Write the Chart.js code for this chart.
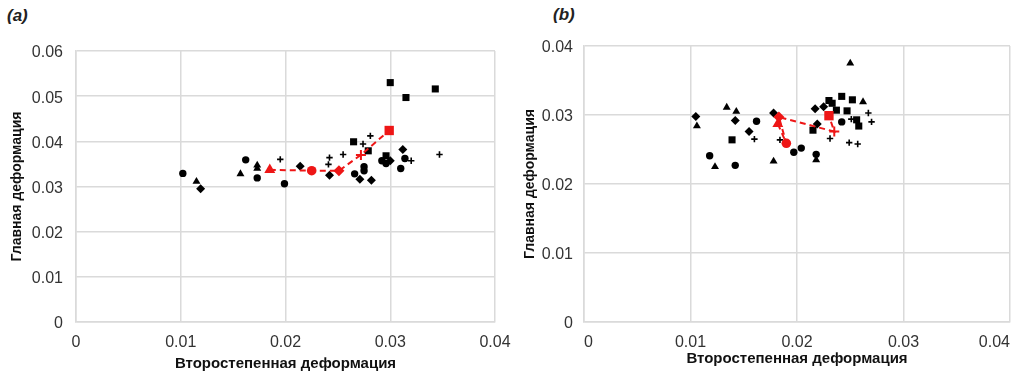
<!DOCTYPE html>
<html>
<head>
<meta charset="utf-8">
<script src="https://cdn.jsdelivr.net/npm/chart.js@4/dist/chart.umd.min.js"></script>
<style>
  html, body { margin: 0; padding: 0; background: #fff; width: 1024px; height: 378px; overflow: hidden; }
  .panel { position: absolute; top: 0; }
  .tag { position: absolute; font-family: "Liberation Sans", Arial, sans-serif; font-weight: bold; font-style: italic; font-size: 17px; color: #222; }
</style>
</head>
<body>
<div class="tag" style="left:7px; top:6px;">(a)</div>
<div class="tag" style="left:553px; top:5px;">(b)</div>
<canvas id="ca" class="panel" style="left:0px;" width="512" height="378"></canvas>
<canvas id="cb" class="panel" style="left:515px;" width="509" height="378"></canvas>
<script>
// ---------- Data: panel (a) ----------
const aCircleX = [0.0102, 0.0162, 0.0173, 0.0199, 0.0266, 0.0275, 0.0275, 0.0292, 0.0296, 0.0314, 0.0310];
const aCircleY = [0.0329, 0.0359, 0.0319, 0.0306, 0.0328, 0.0335, 0.0344, 0.0357, 0.0351, 0.0362, 0.0340];
const aTriX = [0.0115, 0.0157, 0.0173, 0.0173];
const aTriY = [0.0311, 0.0328, 0.0347, 0.0340];
const aDiaX = [0.0119, 0.0214, 0.0242, 0.0271, 0.0282, 0.0300, 0.0312];
const aDiaY = [0.0295, 0.0345, 0.0325, 0.0316, 0.0314, 0.0357, 0.0382];
const aSqX = [0.0265, 0.0279, 0.0296, 0.0300, 0.0315, 0.0343];
const aSqY = [0.0399, 0.0379, 0.0368, 0.0530, 0.0497, 0.0516];
const aPlusX = [0.0195, 0.0241, 0.0242, 0.0255, 0.0274, 0.0281, 0.0320, 0.0347];
const aPlusY = [0.0360, 0.0349, 0.0364, 0.0371, 0.0394, 0.0412, 0.0357, 0.0371];
const aRedX = [0.0185, 0.0225, 0.0251, 0.0272, 0.0299];
const aRedY = [0.0337, 0.0335, 0.0335, 0.0370, 0.0424];

// ---------- Data: panel (b) ----------
const bCircleX = [0.0162, 0.0118, 0.0142, 0.0197, 0.0204, 0.0242, 0.0218];
const bCircleY = [0.0291, 0.0241, 0.0227, 0.0246, 0.0252, 0.0290, 0.0243];
const bTriX = [0.0106, 0.0134, 0.0143, 0.0123, 0.0178, 0.0250, 0.0262, 0.0218];
const bTriY = [0.0284, 0.0311, 0.0305, 0.0225, 0.0233, 0.0375, 0.0319, 0.0235];
const bDiaX = [0.0105, 0.0142, 0.0155, 0.0178, 0.0217, 0.0225, 0.0219];
const bDiaY = [0.0298, 0.0292, 0.0276, 0.0303, 0.0309, 0.0312, 0.0287];
const bSqX = [0.0139, 0.0230, 0.0233, 0.0237, 0.0242, 0.0252, 0.0247, 0.0256, 0.0258, 0.0215];
const bSqY = [0.0264, 0.0321, 0.0317, 0.0307, 0.0327, 0.0322, 0.0306, 0.0293, 0.0284, 0.0278];
const bPlusX = [0.0160, 0.0184, 0.0267, 0.0270, 0.0251, 0.0231, 0.0249, 0.0257];
const bPlusY = [0.0265, 0.0264, 0.0303, 0.0290, 0.0294, 0.0266, 0.0260, 0.0258];
const bRedX = [0.0182, 0.0190, 0.0183, 0.0235, 0.0230];
const bRedY = [0.0287, 0.0259, 0.0297, 0.0276, 0.0299];

// ---------- Axes ----------
const aXTicks = [0, 0.01, 0.02, 0.03, 0.04];
const aYTicks = [0, 0.01, 0.02, 0.03, 0.04, 0.05, 0.06];
const bXTicks = [0, 0.01, 0.02, 0.03, 0.04];
const bYTicks = [0, 0.01, 0.02, 0.03, 0.04];
const xTitle = 'Второстепенная деформация';
const yTitle = 'Главная деформация';

const redStyles = ['triangle', 'circle', 'rectRot', 'cross', 'rect'];
const redRadii = [6.3, 4.8, 5.5, 5, 6.6];

function pts(xs, ys) { return xs.map((x, i) => ({ x: x, y: ys[i] })); }

const RED = 'rgb(238,22,22)';
const BLACK = '#000';
const GRID = '#dadada';
const FONT = '"Liberation Sans", Arial, sans-serif';

function blackSet(data, style, r) {
  return {
    data: data, pointStyle: style, pointRadius: r,
    backgroundColor: BLACK, borderColor: BLACK,
    borderWidth: style === 'cross' ? 1.6 : 0,
    showLine: false
  };
}

function makeChart(id, cfg) {
  const datasets = [
    {
      data: pts(cfg.redX, cfg.redY), showLine: true,
      borderColor: RED, backgroundColor: RED, borderWidth: 2, borderDash: [6, 4],
      pointStyle: redStyles, pointRadius: redRadii,
      pointBorderColor: RED, pointBackgroundColor: RED,
      pointBorderWidth: redStyles.map(s => s === 'cross' ? 2 : 0)
    },
    blackSet(pts(cfg.sqX, cfg.sqY), 'rect', 5),
    blackSet(pts(cfg.circX, cfg.circY), 'circle', 3.7),
    blackSet(pts(cfg.triX, cfg.triY), 'triangle', 4.6),
    blackSet(pts(cfg.diaX, cfg.diaY), 'rectRot', 4.5),
    blackSet(pts(cfg.plusX, cfg.plusY), 'cross', 3.2)
  ];
  return new Chart(document.getElementById(id), {
    type: 'scatter',
    data: { datasets: datasets },
    options: {
      responsive: false,
      animation: false,
      events: [],
      layout: { padding: { top: cfg.padTop, right: cfg.padRight, left: 0, bottom: 0 } },
      plugins: { legend: { display: false }, tooltip: { enabled: false } },
      scales: {
        x: {
          type: 'linear', min: cfg.xTicks[0], max: cfg.xTicks[cfg.xTicks.length - 1],
          afterBuildTicks: s => { s.ticks = cfg.xTicks.map(v => ({ value: v })); },
          afterFit: s => { s.height = cfg.xH; s.paddingLeft = 0; s.paddingRight = 0; },
          grid: { color: GRID, lineWidth: 1.5, drawTicks: false },
          border: { color: GRID, width: 1.5 },
          ticks: { padding: 11, color: '#333', font: { family: FONT, size: 16 }, maxRotation: 0,
                   align: cfg.xAlign, callback: v => String(v) },
          title: { display: true, text: xTitle, color: '#111',
                   font: { family: FONT, size: 15, weight: 'bold' },
                   padding: { top: 0, bottom: cfg.xTitlePad } }
        },
        y: {
          type: 'linear', min: cfg.yTicks[0], max: cfg.yTicks[cfg.yTicks.length - 1],
          afterBuildTicks: s => { s.ticks = cfg.yTicks.map(v => ({ value: v })); },
          afterFit: s => { s.width = cfg.yW; s.paddingTop = 0; s.paddingBottom = 0; },
          grid: { color: GRID, lineWidth: 1.5, drawTicks: false },
          border: { color: GRID, width: 1.5 },
          ticks: { padding: cfg.yTickPad, color: '#333', font: { family: FONT, size: 16 },
                   labelOffset: 2, callback: v => String(v) },
          title: { display: true, text: yTitle, color: '#111',
                   font: { family: FONT, size: 14, weight: 'bold' },
                   padding: { top: cfg.yTitlePad, bottom: 0 } }
        }
      }
    }
  });
}

makeChart('ca', {
  redX: aRedX, redY: aRedY, sqX: aSqX, sqY: aSqY, circX: aCircleX, circY: aCircleY,
  triX: aTriX, triY: aTriY, diaX: aDiaX, diaY: aDiaY, plusX: aPlusX, plusY: aPlusY,
  xTicks: aXTicks, yTicks: aYTicks, xAlign: 'center',
  padTop: 51, padRight: 17, xH: 56, yW: 76, yTickPad: 13, yTitlePad: 9, xTitlePad: 5
});
makeChart('cb', {
  redX: bRedX, redY: bRedY, sqX: bSqX, sqY: bSqY, circX: bCircleX, circY: bCircleY,
  triX: bTriX, triY: bTriY, diaX: bDiaX, diaY: bDiaY, plusX: bPlusX, plusY: bPlusY,
  xTicks: bXTicks, yTicks: bYTicks, xAlign: 'inner',
  padTop: 46, padRight: 14, xH: 56, yW: 69, yTickPad: 11, yTitlePad: 7, xTitlePad: 10
});
</script>
</body>
</html>
